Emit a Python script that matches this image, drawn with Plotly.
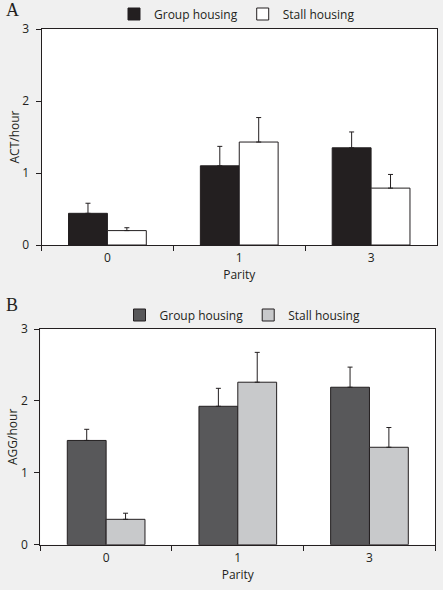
import plotly.graph_objects as go
from plotly.subplots import make_subplots

categories = ["0", "1", "3"]
series_names = ["Group housing", "Stall housing"]

act_group = [0.44, 1.10, 1.35]
act_group_err = [0.14, 0.27, 0.22]
act_stall = [0.20, 1.43, 0.79]
act_stall_err = [0.04, 0.34, 0.19]

agg_group = [1.45, 1.925, 2.19]
agg_group_err = [0.155, 0.25, 0.28]
agg_stall = [0.353, 2.26, 1.355]
agg_stall_err = [0.085, 0.415, 0.275]

y_ticks = [0, 1, 2, 3]

FONT = "Open Sans"
TXT = "#231f20"
W, H = 443, 590

fig = make_subplots(rows=2, cols=1)

def add_bar(y, err, name, color, row, legend):
    fig.add_trace(go.Bar(
        x=categories, y=y, name=name,
        marker=dict(color=color, line=dict(color="#231f20", width=1)),
        error_y=dict(type="data", array=err, arrayminus=[0]*len(err), symmetric=False,
                     color="#231f20", thickness=1, width=2.5),
        legend=legend,
    ), row=row, col=1)

add_bar(act_group, act_group_err, series_names[0], "#231f20", 1, "legend")
add_bar(act_stall, act_stall_err, series_names[1], "#ffffff", 1, "legend")
add_bar(agg_group, agg_group_err, series_names[0], "#58585a", 2, "legend2")
add_bar(agg_stall, agg_stall_err, series_names[1], "#c8c9cb", 2, "legend2")

def yd(top, bottom):
    return [1 - bottom / H, 1 - top / H]

axis_common = dict(showline=True, linecolor="#231f20", linewidth=1, mirror=True,
                   ticks="outside", ticklen=5, tickcolor="#231f20", showgrid=False,
                   zeroline=False, automargin=False,
                   tickfont=dict(size=12, color=TXT, family=FONT))

fig.update_layout(
    width=W, height=H,
    paper_bgcolor="#f0f0f0", plot_bgcolor="#ffffff",
    margin=dict(l=0, r=0, t=0, b=0, autoexpand=False),
    font=dict(family=FONT, color=TXT, size=12),
    barmode="group", bargap=0.41, bargroupgap=0,
    xaxis=dict(domain=[41.5 / W, 437 / W], anchor="y", tickson="boundaries",
               ticklabelstandoff=2,
               title=dict(text="Parity", standoff=2, font=dict(size=12)), **axis_common),
    yaxis=dict(domain=yd(29, 245), anchor="x", range=[0, 3], tickvals=y_ticks,
               ticklabelstandoff=4,
               title=dict(text="ACT/hour", standoff=0, font=dict(size=12)), **axis_common),
    xaxis2=dict(domain=[40.3 / W, 435.3 / W], anchor="y2", tickson="boundaries",
                ticklabelstandoff=2,
                title=dict(text="Parity", standoff=2, font=dict(size=12)), **axis_common),
    yaxis2=dict(domain=yd(329, 544.7), anchor="x2", range=[0, 3], tickvals=y_ticks,
                ticklabelstandoff=4,
                title=dict(text="AGG/hour", standoff=0, font=dict(size=12)), **axis_common),
    legend=dict(orientation="h", x=237 / W, xanchor="center", y=1 - 14 / H, yanchor="middle",
                bgcolor="rgba(0,0,0,0)", font=dict(size=12, color=TXT, family=FONT),
                itemwidth=30, traceorder="normal"),
    legend2=dict(orientation="h", x=242.5 / W, xanchor="center", y=1 - 315 / H, yanchor="middle",
                 bgcolor="rgba(0,0,0,0)", font=dict(size=12, color=TXT, family=FONT),
                 itemwidth=30, traceorder="normal"),
    annotations=[
        dict(text="A", x=12 / W, y=1 - 10 / H, xref="paper", yref="paper", showarrow=False,
             xanchor="center", yanchor="middle", font=dict(family="Liberation Serif", size=18, color=TXT)),
        dict(text="B", x=12 / W, y=1 - 305 / H, xref="paper", yref="paper", showarrow=False,
             xanchor="center", yanchor="middle", font=dict(family="Liberation Serif", size=18, color=TXT)),
    ],
)

fig.write_html("out.html", config={"displayModeBar": False},
               post_script="document.body.style.margin='0';document.body.style.overflow='hidden';")
